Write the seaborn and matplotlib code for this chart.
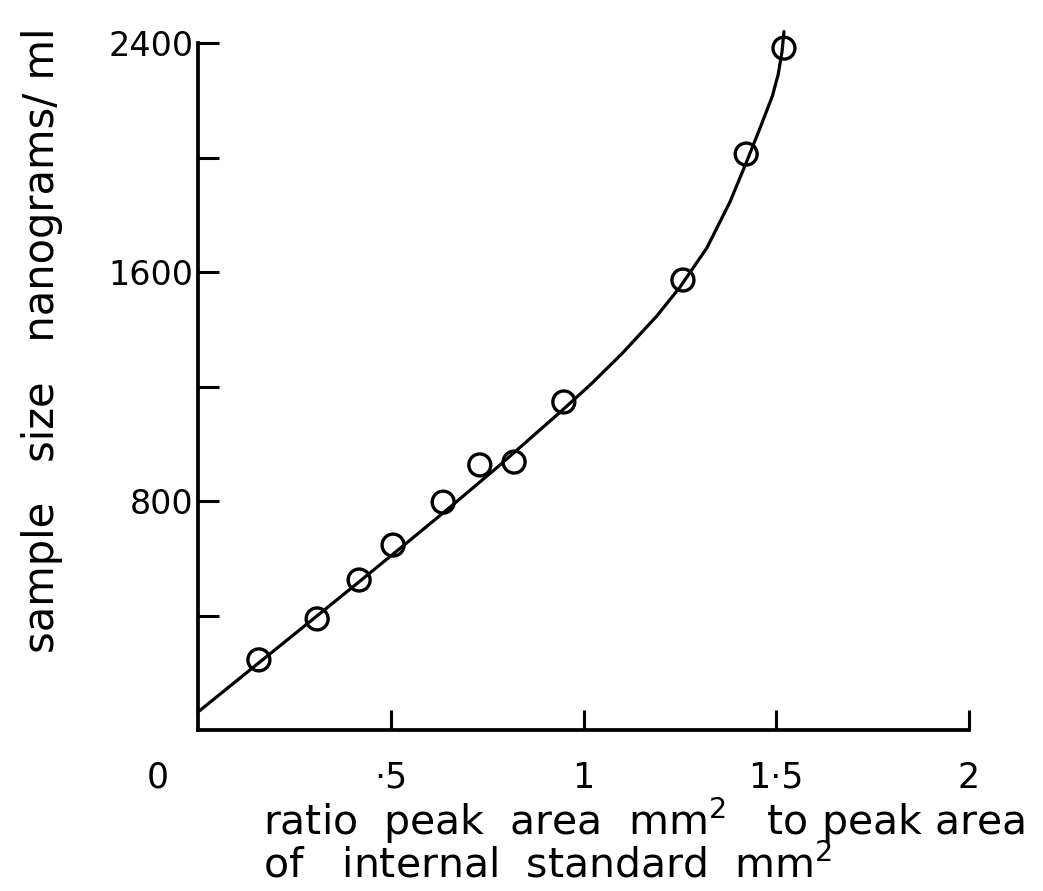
import matplotlib
matplotlib.use("Agg")
import matplotlib.pyplot as plt
import seaborn as sns
import pandas as pd

# Measured calibration points: peak-area ratio vs. sample size (ng/ml)
ratio = [0.158, 0.309, 0.418, 0.506, 0.636, 0.731, 0.820, 0.949, 1.258, 1.422, 1.520]
sample_ng = [245, 388, 524, 646, 796, 926, 936, 1146, 1572, 2012, 2382]

# Hand-drawn calibration curve traced through the points
curve_ratio = [0.0, 0.16, 0.31, 0.42, 0.52, 0.65, 0.78, 0.94, 1.02, 1.10,
               1.19, 1.25, 1.32, 1.38, 1.42, 1.46, 1.49, 1.505, 1.515, 1.52]
curve_ng = [63, 237, 400, 520, 630, 774, 922, 1111, 1209, 1315,
            1446, 1547, 1684, 1845, 1975, 2110, 2215, 2290, 2370, 2440]

x_ticks = [0.5, 1.0, 1.5, 2.0]
x_tick_labels = ["·5", "1", "1·5", "2"]
y_ticks = [400, 800, 1200, 1600, 2000, 2400]
y_tick_labels = ["", "800", "", "1600", "", "2400"]

sns.set_theme(style="ticks")
plt.rcParams["font.family"] = ["DejaVu Sans"]
plt.rcParams.update({"text.color": "black", "axes.labelcolor": "black",
                     "xtick.color": "black", "ytick.color": "black",
                     "axes.edgecolor": "black"})

fig = plt.figure(figsize=(10.43, 8.91), dpi=100)
ax = fig.add_axes([198 / 1043, 1 - 730 / 891, (969 - 198) / 1043, (730 - 43) / 891])

points = pd.DataFrame({"ratio": ratio, "ng": sample_ng})
curve = pd.DataFrame({"ratio": curve_ratio, "ng": curve_ng})

sns.lineplot(data=curve, x="ratio", y="ng", ax=ax, color="black",
             linewidth=2.3, clip_on=False, zorder=3)
sns.scatterplot(data=points, x="ratio", y="ng", ax=ax, s=250, marker="o",
                facecolor="none", edgecolor="black", linewidth=2.4,
                clip_on=False, zorder=4)

ax.set_xlim(0, 2)
ax.set_ylim(0, 2400)
ax.set_xticks(x_ticks)
ax.set_xticklabels(x_tick_labels)
ax.set_yticks(y_ticks)
ax.set_yticklabels(y_tick_labels)
ax.set_xlabel("")
ax.set_ylabel("")

for side in ("top", "right"):
    ax.spines[side].set_visible(False)
for side in ("left", "bottom"):
    ax.spines[side].set_linewidth(2.7)

ax.tick_params(axis="x", direction="in", length=14.5, width=2.2, pad=22,
               labelsize=25)
ax.tick_params(axis="y", direction="in", length=15, width=2.2, pad=3,
               labelsize=24)

# origin label sits left of the corner
ax.annotate("0", xy=(0, 0), xycoords="data", xytext=(-40, -47),
            textcoords="offset pixels", ha="center", va="center", fontsize=25)

fig.text(263 / 1043, 1 - 835 / 891,
         r"ratio  peak  area  mm$^{\mathregular{2}}$   to peak area",
         ha="left", va="baseline", fontsize=29.5)
fig.text(263 / 1043, 1 - 877 / 891,
         r"of   internal  standard  mm$^{\mathregular{2}}$",
         ha="left", va="baseline", fontsize=29.5)
fig.text(42 / 1043, 1 - 340 / 891, "sample   size   nanograms/ ml",
         rotation=90, ha="center", va="center", fontsize=30)

fig.savefig("out.png", dpi=100, facecolor="white")
